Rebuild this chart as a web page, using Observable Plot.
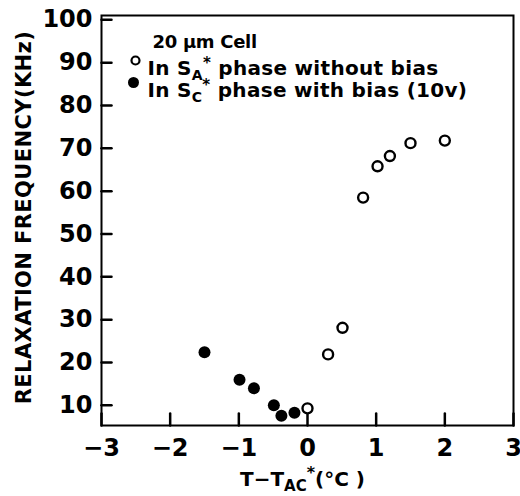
<!DOCTYPE html>
<html>
<head>
<meta charset="utf-8">
<script src="https://cdn.jsdelivr.net/npm/d3@7"></script>
<script src="https://cdn.jsdelivr.net/npm/@observablehq/plot@0.6"></script>
<style>
  html, body { margin: 0; padding: 0; background: #fff; }
</style>
</head>
<body>
<div id="chart"></div>
<script>
// SA* phase without bias (open circles)
const saX = [0, 0.30, 0.51, 0.81, 1.02, 1.20, 1.50, 2.00];
const saY = [9.3, 21.9, 28.1, 58.5, 65.8, 68.2, 71.2, 71.8];
// SC* phase with bias 10 V (filled circles)
const scX = [-1.50, -0.99, -0.78, -0.49, -0.38, -0.19];
const scY = [22.4, 16.0, 14.0, 10.0, 7.6, 8.3];

const xTicks = [-3, -2, -1, 0, 1, 2, 3];
const yTicks = [10, 20, 30, 40, 50, 60, 70, 80, 90, 100];

const yTitle = "RELAXATION FREQUENCY(KHz)";
const xTitle = "T−TAC*(°C )";
const legendTitle = "20 μm Cell";
const legendSA = "In SA* phase without bias";
const legendSC = "In SC* phase with bias (10v)";

const sa = saX.map((x, i) => ({x, y: saY[i]}));
const sc = scX.map((x, i) => ({x, y: scY[i]}));

const font = "'DejaVu Sans', Verdana, sans-serif";
const W = 520, H = 496, mL = 101, mR = 7, mT = 15, mB = 71;

// a straight tick line drawn by Plot.vector
const line = {draw(context, l) { context.moveTo(0, 0); context.lineTo(0, -l); }};

const chart = Plot.plot({
  width: W,
  height: H,
  marginLeft: mL,
  marginRight: mR,
  marginTop: mT,
  marginBottom: mB,
  x: {domain: [-3, 3]},
  y: {domain: [5.3, 101]},
  style: {fontFamily: font, fontWeight: "bold", background: "white"},
  marks: [
    Plot.frame({strokeWidth: 2, stroke: "black"}),
    // inward ticks
    Plot.vector(xTicks, {x: d => d, frameAnchor: "bottom", length: 12, anchor: "start", shape: line, stroke: "black", strokeWidth: 2.5}),
    Plot.vector(yTicks, {y: d => d, frameAnchor: "left", length: 10, rotate: 90, anchor: "start", shape: line, stroke: "black", strokeWidth: 2.5}),
    Plot.axisX(xTicks, {tickSize: 0, tickPadding: 13, fontSize: 24, label: null, fill: "black"}),
    Plot.axisY(yTicks, {tickSize: 0, tickPadding: 9, fontSize: 24, label: null, fill: "black"}),
    Plot.dot(sc, {x: "x", y: "y", r: 6, fill: "black"}),
    Plot.dot(sa, {x: "x", y: "y", r: 5, fill: "white", stroke: "black", strokeWidth: 2.4}),
    Plot.text([yTitle], {frameAnchor: "left", textAnchor: "middle", rotate: -90, dx: -77, dy: -3, fontSize: 21, fontWeight: "bold", fill: "black"}),
    Plot.text([xTitle], {frameAnchor: "bottom", textAnchor: "middle", dx: -5, dy: 60, fontSize: 20, fontWeight: "bold", fill: "black"}),
    Plot.text([legendTitle], {frameAnchor: "top-left", textAnchor: "start", dx: 51, dy: 20, fontSize: 18, fontWeight: "bold", fill: "black"}),
    Plot.dot([0], {frameAnchor: "top-left", dx: 34, dy: 45, r: 4, fill: "white", stroke: "black", strokeWidth: 2.2}),
    Plot.text([legendSA], {frameAnchor: "top-left", textAnchor: "start", dx: 46, dy: 45, fontSize: 20, fontWeight: "bold", fill: "black"}),
    Plot.dot([0], {frameAnchor: "top-left", dx: 32, dy: 67, r: 5.5, fill: "black"}),
    Plot.text([legendSC], {frameAnchor: "top-left", textAnchor: "start", dx: 46, dy: 67, fontSize: 20, fontWeight: "bold", fill: "black"})
  ]
});

document.getElementById("chart").appendChild(chart);

// rich text: subscripts / superscripts
function rich(el, parts) {
  const t = d3.select(el);
  t.text(null);
  parts.forEach(p => {
    const ts = t.append("tspan").text(p.t);
    if (p.dy) ts.attr("dy", p.dy);
    if (p.fs) ts.attr("font-size", p.fs);
  });
}
d3.select(chart).selectAll("text").each(function() {
  const s = this.textContent;
  if (s === yTitle) {
    d3.select(this).style("letter-spacing", "0.4px");
  } else if (s === legendTitle) {
    d3.select(this).style("letter-spacing", "-0.3px");
  } else if (s === xTitle) {
    rich(this, [
      {t: "T−T"},
      {t: "AC", dy: 5, fs: 15},
      {t: "*", dy: -13, fs: 16},
      {t: "(°C )", dy: 8}
    ]);
  } else if (s === legendSA) {
    rich(this, [
      {t: "In S"},
      {t: "A", dy: 5, fs: 14},
      {t: "*", dy: -12, fs: 15},
      {t: " phase without bias", dy: 7}
    ]);
    d3.select(this).style("letter-spacing", "0.3px");
  } else if (s === legendSC) {
    rich(this, [
      {t: "In S"},
      {t: "C", dy: 5, fs: 14},
      {t: "*", dy: -12, fs: 15},
      {t: " phase with bias (10v)", dy: 7}
    ]);
    d3.select(this).style("letter-spacing", "0.3px");
  }
});
</script>
</body>
</html>
